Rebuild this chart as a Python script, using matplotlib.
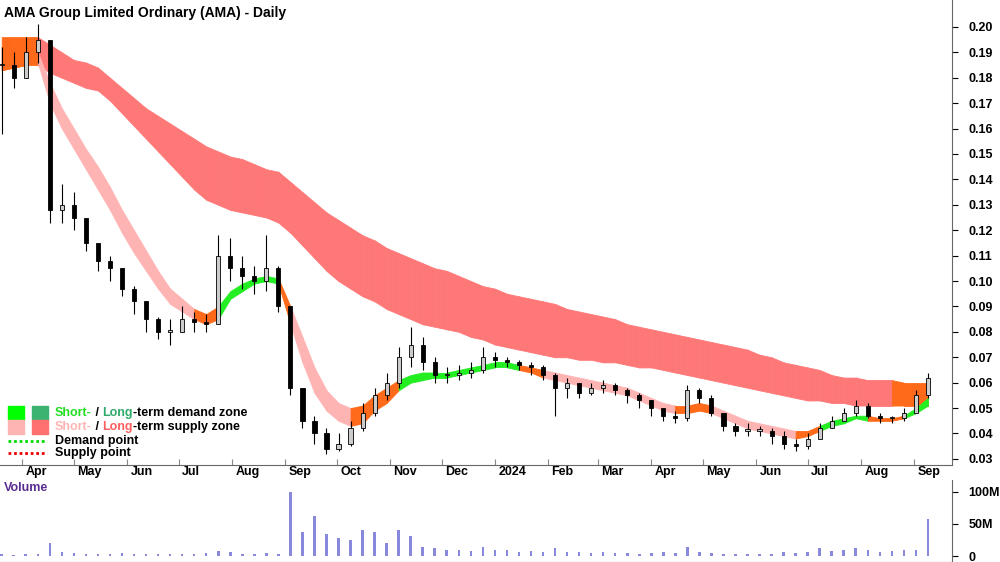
import matplotlib
matplotlib.use("Agg")
import matplotlib.pyplot as plt
import matplotlib.dates as mdates
import numpy as np
import datetime as dt

start = dt.date(2023, 3, 20)
dates = [start + dt.timedelta(weeks=i) for i in range(78)]

close = [.185,.180,.190,.195,.128,.130,.125,.115,.108,.105,.097,.092,.085,.080,.080,.085,.084,.083,.110,.105,
         .102,.100,.105,.090,.058,.045,.040,.034,.036,.042,.048,.055,.060,.070,.075,.068,.063,.063,.064,.065,
         .070,.069,.068,.067,.066,.063,.058,.060,.056,.058,.059,.057,.055,.053,.050,.047,.046,.057,.054,.048,
         .043,.041,.041,.041,.039,.036,.035,.038,.042,.045,.048,.051,.047,.046,.046,.048,.055,.062]
high = [.192,.19,.196,.201,.170,.138,.135,.125,.115,.110,.105,.098,.092,.086,.085,.090,.088,.087,.118,.117,
        .110,.106,.118,.106,.066,.058,.047,.042,.040,.045,.052,.058,.064,.074,.082,.078,.070,.066,.067,.068,
        .074,.072,.070,.069,.068,.067,.064,.062,.060,.060,.061,.060,.058,.056,.053,.050,.049,.059,.058,.055,
        .048,.044,.044,.043,.042,.041,.038,.040,.044,.047,.050,.053,.052,.048,.047,.050,.057,.064]
low = [.158,.176,.180,.186,.123,.123,.120,.112,.104,.100,.094,.087,.080,.077,.075,.080,.080,.080,.083,.100,
       .097,.095,.096,.088,.055,.042,.036,.032,.033,.035,.041,.047,.053,.058,.066,.065,.060,.060,.061,.062,
       .064,.066,.066,.065,.063,.061,.047,.054,.054,.055,.056,.055,.052,.050,.047,.045,.044,.045,.052,.047,
       .041,.039,.039,.039,.036,.034,.033,.034,.038,.042,.045,.047,.046,.044,.044,.045,.050,.054]
volume_m = [3,2,3,4,20,7,5,3,4,3,5,3,3,4,3,4,3,5,8,6,4,3,5,4,100,38,62,35,28,25,40,38,20,40,32,15,12,10,9,8,
            14,10,9,7,8,6,12,7,6,5,6,5,5,4,5,6,5,15,7,5,4,3,4,3,4,6,5,7,12,8,10,12,9,7,8,10,9,57]

long_up = [.196,.196,.196,.196,.193,.190,.187,.186,.184,.180,.176,.172,.168,.165,.162,.159,.156,.153,.151,.149,
           .148,.146,.144,.143,.139,.135,.131,.127,.124,.121,.118,.116,.113,.111,.109,.107,.105,.104,.102,.100,
           .098,.097,.095,.094,.093,.092,.091,.089,.088,.087,.086,.085,.083,.082,.081,.080,.079,.078,.077,.076,
           .075,.074,.073,.071,.070,.068,.067,.066,.065,.063,.062,.062,.061,.061,.061,.060,.060,.060]
long_lo = [.183,.184,.185,.185,.182,.180,.178,.176,.175,.171,.166,.161,.156,.151,.146,.141,.136,.132,.130,.128,
           .127,.126,.125,.123,.119,.114,.109,.104,.100,.097,.094,.092,.089,.087,.085,.083,.082,.081,.080,.078,
           .077,.075,.074,.073,.072,.071,.070,.070,.069,.069,.068,.068,.067,.066,.066,.065,.064,.063,.062,.061,
           .060,.059,.058,.057,.056,.055,.054,.053,.053,.052,.052,.051,.051,.051,.051,.051,.051,.051]
short_up = [.192,.192,.191,.190,.178,.168,.160,.152,.145,.137,.128,.120,.112,.104,.097,.093,.089,.087,.090,.096,
            .099,.101,.102,.101,.090,.078,.066,.057,.052,.050,.051,.055,.058,.061,.063,.064,.064,.064,.065,.066,
            .067,.068,.068,.067,.066,.065,.064,.063,.062,.061,.060,.059,.058,.056,.054,.052,.051,.051,.052,.051,
            .049,.047,.045,.044,.043,.042,.041,.041,.043,.045,.046,.047,.047,.046,.046,.047,.050,.054]
short_lo = [.183,.184,.185,.186,.170,.160,.152,.144,.136,.128,.119,.111,.104,.097,.091,.088,.085,.083,.085,.093,
            .096,.099,.100,.099,.083,.068,.056,.049,.045,.043,.044,.049,.052,.057,.060,.061,.062,.062,.063,.064,
            .065,.066,.066,.065,.064,.062,.061,.060,.059,.058,.057,.056,.055,.053,.051,.049,.048,.048,.049,.048,
            .046,.044,.042,.041,.040,.039,.038,.039,.041,.043,.044,.046,.045,.045,.045,.046,.048,.051]
short_state = "ooo" + "p"*13 + "oo" + "g"*5 + "o" + "p"*5 + "o"*4 + "g"*10 + "oo" + "p"*11 + "ooo" + "p"*7 + "oo" + "g"*4 + "ooo" + "ggg"
long_state = "ooo" + "r"*71 + "oooo"

COL = {"o": "#FF6A1A", "p": "#FFB4B4", "g": "#22EE22", "r": "#FF7878"}

fig = plt.figure(figsize=(10, 5.62), dpi=100)
ax = fig.add_axes([0, 97/562, 0.952, 465/562])
axv = fig.add_axes([0, 0, 0.952, 82/562])

x = mdates.date2num(dates)

def bands(up, lo, state):
    for i in range(len(x) - 1):
        c = COL[state[i]]
        ax.fill_between(x[i:i+2], lo[i:i+2], up[i:i+2], facecolor=c, edgecolor=c, lw=0.6, zorder=1)

bands(long_up, long_lo, long_state)
bands(short_up, short_lo, short_state)

w = 2.4
for i in range(len(x)):
    o = close[i-1] if i > 0 else close[i]
    c = close[i]
    ax.vlines(x[i], low[i], high[i], color="black", lw=0.8, zorder=3)
    b0, b1 = min(o, c), max(o, c)
    ax.add_patch(plt.Rectangle((x[i]-w/2, b0), w, max(b1-b0, 0.0006),
                               facecolor="#CCCCCC" if c >= o else "black", edgecolor="black", lw=0.6, zorder=4))

axv.bar(x, volume_m, width=1.5, color="#8888DD", zorder=2)

xmin = mdates.date2num(dt.date(2023, 3, 19)); xmax = mdates.date2num(dt.date(2024, 9, 23))
for a in (ax, axv):
    a.set_xlim(xmin, xmax)
    a.spines["left"].set_visible(False)
    a.spines["top"].set_visible(False)
ax.set_ylim(0.0276, 0.2106)
axv.set_ylim(-9, 118)

months = [dt.date(2023, m, 1) for m in range(4, 13)] + [dt.date(2024, m, 1) for m in range(1, 10)]
ax.set_xticks(mdates.date2num(months))
ax.set_xticklabels([])
for d in months:
    lab = "2024" if d == dt.date(2024, 1, 1) else d.strftime("%b")
    ax.text(mdates.date2num(d) + 2, -0.003, lab, transform=ax.get_xaxis_transform(),
            ha="left", va="top", fontsize=9, fontweight="bold", family="Liberation Sans")
ax.tick_params(axis="x", direction="in", length=4, color="#888888")
axv.set_xticks([])

yt = np.round(np.arange(0.03, 0.2001, 0.01), 2)
ax.yaxis.tick_right()
ax.set_yticks(yt)
ax.set_yticklabels([f"{v:.2f}" for v in yt])
axv.yaxis.tick_right()
axv.set_yticks([0, 50, 100])
axv.set_yticklabels(["0", "50M", "100M"])
for a in (ax, axv):
    a.tick_params(axis="y", direction="out", length=4, pad=8, labelsize=9)
    for t in a.get_yticklabels():
        t.set_fontweight("bold"); t.set_family("Liberation Sans")
    a.spines["right"].set_color("#666666")
    a.spines["bottom"].set_color("#666666")

fig.text(0.004, 0.99, "AMA Group Limited Ordinary (AMA) - Daily", ha="left", va="top",
         fontsize=10, fontweight="bold", family="Liberation Sans")
axv.text(0.004, 0.97, "Volume", transform=axv.transAxes, ha="left", va="top", color="#5A2D91",
         fontsize=9, fontweight="bold", family="Liberation Sans")

fp = dict(fontsize=9, fontweight="bold", family="Liberation Sans", va="center", ha="left")

def annot_chain(y, parts):
    t = fig.text(0.055, y, parts[0][0], color=parts[0][1], **fp)
    for s, c in parts[1:]:
        t = ax.annotate(s, xy=(1, 0.5), xycoords=t, color=c, fontsize=9, fontweight="bold",
                        family="Liberation Sans", va="center", ha="left")

for y, sq, parts in [
    (1 - 413/562, ("#00FF00", "#3CB371"), [("Short-", "#22DD22"), (" / ", "black"), ("Long", "#2EAA6A"), ("-term demand zone", "black")]),
    (1 - 427/562, ("#FFB4B4", "#FF7070"), [("Short-", "#FFB4B4"), (" / ", "black"), ("Long", "#FF6060"), ("-term supply zone", "black")]),
]:
    fig.patches.append(plt.Rectangle((0.008, y - 0.012), 0.016, 0.024, transform=fig.transFigure, color=sq[0], figure=fig))
    fig.patches.append(plt.Rectangle((0.032, y - 0.012), 0.016, 0.024, transform=fig.transFigure, color=sq[1], figure=fig))
    annot_chain(y, parts)

for y, c, s in [(1 - 441/562, "#00DD00", "Demand point"), (1 - 453/562, "#EE0000", "Supply point")]:
    fig.lines.append(plt.Line2D([0.008, 0.047], [y, y], transform=fig.transFigure, color=c, lw=2, ls=(0, (1, 1)), figure=fig))
    fig.text(0.055, y, s, color="black", **fp)

fig.savefig("out.png", dpi=100)
